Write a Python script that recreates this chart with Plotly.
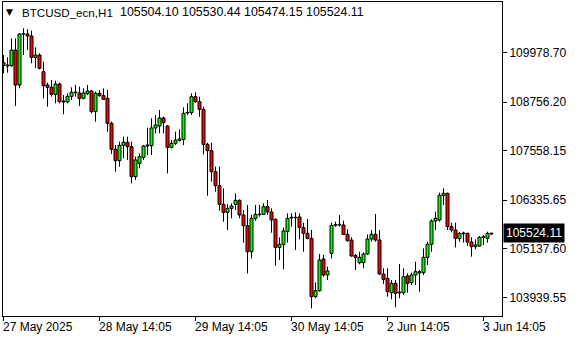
import plotly.graph_objects as go

opens = [109733, 109650, 109659, 110045, 109181, 110440, 110440, 110391, 109864, 109922,
         109510, 109181, 109124, 108951, 109206, 108786, 108762, 108901, 108992, 108984,
         108852, 108967, 109033, 108523, 108976, 108918, 108852, 108235, 107593, 107313,
         107692, 107766, 107659, 106918, 107247, 107395, 107675, 107683, 108120, 108169,
         108367, 108169, 107642, 107741, 107815, 107840, 108490, 108498, 108893, 108770,
         108580, 107716, 107560, 107041, 106696, 106235, 106037, 106136, 106235, 106334,
         105972, 105708, 105066, 105889, 105980, 105988, 106177, 106046, 105865, 105173,
         105247, 105560, 105898, 105906, 105922, 105659, 105519, 105395, 103955, 104103,
         104885, 104490, 105025, 105716, 105725, 105725, 105494, 105354, 104968, 104795,
         104795, 105009, 105379, 105494, 105354, 104515, 104408, 104054, 104284, 104046,
         104054, 104466, 104301, 104490, 104572, 104548, 104926, 105247, 105823, 105848,
         106449, 106507, 105684, 105601, 105387, 105511, 105519, 105305, 105190, 105206,
         105420, 105395, 105504.10]
highs = [109922, 109864, 110333, 110333, 110457, 110580, 110556, 110523, 110111, 109963,
         109757, 109239, 109305, 109288, 109239, 108934, 108976, 109124, 109181, 109140,
         109099, 109181, 109058, 109017, 109058, 109099, 109058, 108276, 107700, 107782,
         107906, 107906, 107782, 107412, 107494, 107700, 108128, 108358, 108441, 108564,
         108399, 108194, 107823, 108029, 108087, 108630, 108729, 108976, 109000, 108893,
         108646, 107757, 107757, 107165, 107165, 106630, 106243, 106260, 106507, 106358,
         106095, 106218, 105972, 106218, 106218, 106260, 106342, 106136, 105889, 105420,
         105659, 106013, 106013, 106037, 106013, 105782, 105873, 105601, 104309, 105009,
         104984, 104696, 105782, 105807, 105972, 105832, 105618, 105420, 105009, 105066,
         105050, 105494, 105601, 105996, 105601, 104655, 104655, 104367, 104367, 104762,
         104655, 104531, 104548, 104819, 104614, 105149, 105313, 105865, 106054, 106523,
         106630, 106523, 105782, 105782, 105552, 105560, 105535, 105420, 105371, 105453,
         105478, 105560, 105530.44]
lows = [109469, 109486, 109634, 108663, 109099, 109922, 110045, 109716, 109593, 109568,
        108852, 108646, 108893, 108729, 108729, 108457, 108729, 108811, 108893, 108663,
        108827, 108934, 108482, 108276, 108893, 108811, 108029, 107478, 107041, 107165,
        107371, 107330, 106753, 106836, 107124, 107330, 107453, 107453, 107988, 107988,
        107988, 107000, 107618, 107700, 107782, 107700, 108441, 108441, 108745, 108399,
        107469, 106449, 106794, 106548, 106079, 105807, 105601, 105889, 106095, 105889,
        105289, 104531, 104902, 105832, 105930, 105972, 105972, 105535, 104721, 104861,
        104630, 105289, 105684, 105107, 105371, 105066, 105371, 103667, 103914, 104079,
        104449, 104367, 104902, 105684, 105684, 105478, 105313, 104943, 104614, 104754,
        104655, 104984, 105313, 105313, 104490, 104268, 103955, 103889, 103692, 103914,
        103996, 104054, 104243, 104243, 104079, 104490, 104737, 105066, 105601, 105807,
        106218, 105601, 105544, 105173, 105313, 105289, 105206, 104943, 105124, 105190,
        105231, 105289, 105474.15]
closes = [109667, 109675, 110045, 109181, 110440, 110449, 110391, 109864, 109922, 109593,
          109165, 109124, 108951, 109206, 108770, 108762, 108901, 109000, 109008, 108852,
          108984, 109033, 108523, 108976, 108918, 108827, 108235, 107593, 107313, 107692,
          107766, 107659, 106918, 107330, 107412, 107675, 107700, 108120, 108194, 108367,
          108251, 107642, 107741, 107823, 107848, 108482, 108506, 108893, 108770, 108580,
          107716, 107560, 107041, 106696, 106235, 106037, 106136, 106194, 106334, 105972,
          105708, 105066, 105889, 105988, 105996, 106177, 106046, 105848, 105173, 105247,
          105577, 105889, 105914, 105914, 105659, 105519, 105395, 103955, 104103, 104861,
          104490, 104589, 105716, 105733, 105741, 105494, 105338, 104959, 104926, 104926,
          105009, 105379, 105494, 105354, 104515, 104383, 104079, 104284, 104038, 104070,
          104449, 104284, 104490, 104572, 104540, 104926, 105247, 105823, 105889, 106457,
          106507, 105684, 105601, 105395, 105519, 105527, 105305, 105190, 105231, 105420,
          105437, 105519, 105524.11]

symbol = "BTCUSD_ecn,H1"
x_tick_idx = [0, 24, 48, 72, 96, 120]
x_tick_labels = ["27 May 2025", "28 May 14:05", "29 May 14:05", "30 May 14:05",
                 "2 Jun 14:05", "3 Jun 14:05"]
y_tick_vals = [109978.70, 108756.20, 107558.15, 106335.65, 105137.60, 103939.55]

FONT = "Liberation Sans"
BULL = "#00FF00"
BEAR = "#FF0000"
n = len(opens)
idx = list(range(n))

body_base = [min(o, c) for o, c in zip(opens, closes)]
body_top = [max(o, c) for o, c in zip(opens, closes)]
body_h = [max(t - b, 1.0) for t, b in zip(body_top, body_base)]
body_col = [BULL if c >= o else BEAR for o, c in zip(opens, closes)]

wx, wy = [], []
for i in idx:
    wx += [i, i, None, i, i, None]
    wy += [highs[i], body_top[i], None, body_base[i], lows[i], None]

fig = go.Figure()
fig.add_trace(go.Scatter(x=wx, y=wy, mode="lines", line=dict(color="black", width=1),
                         hoverinfo="skip", showlegend=False))
fig.add_trace(go.Bar(x=idx, y=body_h, base=body_base, width=0.75,
                     marker=dict(color=body_col, line=dict(color="black", width=1)),
                     hoverinfo="skip", showlegend=False))

fig.update_layout(
    width=580, height=340,
    margin=dict(l=3, r=78, t=2, b=24, autoexpand=False),
    paper_bgcolor="white", plot_bgcolor="white",
    font=dict(family=FONT, size=12, color="black"),
    showlegend=False, barmode="overlay",
)
fig.update_xaxes(
    range=[-0.125, 124.625],
    showgrid=False, zeroline=False, automargin=False,
    showline=True, mirror=True, linecolor="black", linewidth=1,
    tickmode="array", tickvals=x_tick_idx, showticklabels=False,
    ticks="outside", ticklen=4, tickcolor="black", tickwidth=1,
)
fig.update_yaxes(
    range=[103478, 111230.5], side="right", automargin=False,
    showgrid=False, zeroline=False,
    showline=True, mirror=True, linecolor="black", linewidth=1,
    tickmode="array", tickvals=y_tick_vals,
    ticktext=[f"{v:.2f}" for v in y_tick_vals],
    ticks="outside", ticklen=4, tickcolor="black", tickwidth=1,
    tickfont=dict(family=FONT, size=12, color="black"),
)

for i, lab in zip(x_tick_idx, x_tick_labels):
    fig.add_annotation(x=i, y=-0.035, xref="x", yref="paper", text=lab,
                       showarrow=False, xanchor="left", yanchor="middle", xshift=-3,
                       font=dict(family=FONT, size=12, color="black"))

header_vals = f"{opens[-1]:.2f} {highs[-1]:.2f} {lows[-1]:.2f} {closes[-1]:.2f}"
fig.add_annotation(x=4.6, y=0.968, xref="x", yref="paper", text=symbol,
                   showarrow=False, xanchor="left", yanchor="middle", xshift=-2,
                   font=dict(family=FONT, size=11.6, color="black"))
fig.add_annotation(x=29.2, y=0.968, xref="x", yref="paper", text=header_vals,
                   showarrow=False, xanchor="left", yanchor="middle", xshift=-2,
                   font=dict(family=FONT, size=12.4, color="black"))
fig.add_annotation(x=1.4, y=0.968, xref="x", yref="paper", text="▼",
                   showarrow=False, xanchor="center", yanchor="middle",
                   font=dict(family="DejaVu Sans", size=9, color="black"))

fig.add_annotation(x=1, y=closes[-1], xref="paper", yref="y",
                   text=f"{closes[-1]:.2f}", showarrow=False,
                   xanchor="left", yanchor="middle", xshift=1,
                   bgcolor="black", borderpad=2,
                   font=dict(family=FONT, size=12, color="white"))

fig.write_html("out.html")
